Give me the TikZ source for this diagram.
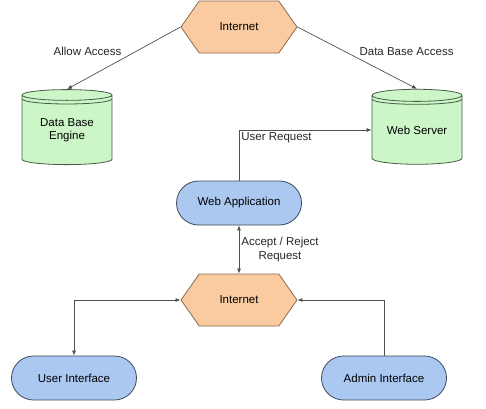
\documentclass[tikz,border=0pt]{standalone}
\usepackage{fontspec}
\setmainfont{Liberation Sans}
\usetikzlibrary{shapes.geometric, shapes.symbols, shapes.misc, arrows.meta, calc}

\definecolor{hexfill}{RGB}{250,202,160}
\definecolor{hexdraw}{RGB}{140,108,78}
\definecolor{cylfill}{RGB}{204,245,200}
\definecolor{cyldraw}{RGB}{70,92,70}
\definecolor{appfill}{RGB}{170,200,240}
\definecolor{appdraw}{RGB}{62,72,92}
\definecolor{linkcol}{RGB}{80,80,80}

\tikzset{
	net/.style = {signal, signal to = west and east, signal pointer angle = 110,
		minimum width = 116pt, minimum height = 52pt, inner sep = 0pt,
		fill = hexfill, draw = hexdraw, line width = 0.8pt},
	store/.style = {cylinder, shape border rotate = 90, aspect = 0.2,
		minimum width = 90pt, minimum height = 75pt, inner sep = 0pt,
		fill = cylfill, draw = cyldraw, line width = 0.8pt, align = center},
	app/.style = {rounded rectangle, minimum width = 125pt, minimum height = 44pt,
		inner sep = 0pt, fill = appfill, draw = appdraw, line width = 0.8pt},
	link/.style = {draw = linkcol, line width = 0.7pt},
	tag/.style = {text = black!85, inner sep = 2pt}
}

\begin{document}
\begin{tikzpicture}[> = {Latex[length = 5pt, width = 4pt]}, font = \fontsize{11.5}{13.5}\selectfont, x = 1pt, y = 1pt]

	% Frame

	\useasboundingbox (0, 0) rectangle (486, 408);

	% Internet (top) and data stores

	\node [net] (inet1) at (239, 381) {Internet};
	\node [store] (dbe) at (67, 278) {Data Base\\Engine};
	\node [store] (wsrv) at (417, 278) {Web Server};

	% Lids of the stores

	\foreach \s in {dbe, wsrv}
		\draw [cyldraw, line width = 0.8pt] ($(\s.center |- \s.before top) + (-44.6, -4)$) arc [start angle = 180, end angle = 360, x radius = 44.6, y radius = 5];

	% Application, internet (bottom) and interfaces

	\node [app] (webapp) at (239, 205) {Web Application};
	\node [net] (inet2) at (239, 108) {Internet};
	\node [app] (user) at (74, 30) {User Interface};
	\node [app] (admin) at (384, 30) {Admin Interface};

	% Connections

	\begin{scope}[link]

		\draw [->] (inet1.west) -- node [tag, midway, above left] {Allow Access} (dbe.north);
		\draw [->] (inet1.east) -- node [tag, midway, above right] {Data Base Access} (wsrv.north);
		\draw [->] (webapp.north) |- node [tag, pos = 0.5, below right] {User Request} (wsrv.west);
		\draw [<->] (webapp.south) -- node [tag, midway, right, align = center] {Accept / Reject\\Request} (inet2.north);
		\draw [<->] (inet2.west) -| (user.north);
		\draw [->] (admin.north) |- (inet2.east);

	\end{scope}

\end{tikzpicture}
\end{document}
